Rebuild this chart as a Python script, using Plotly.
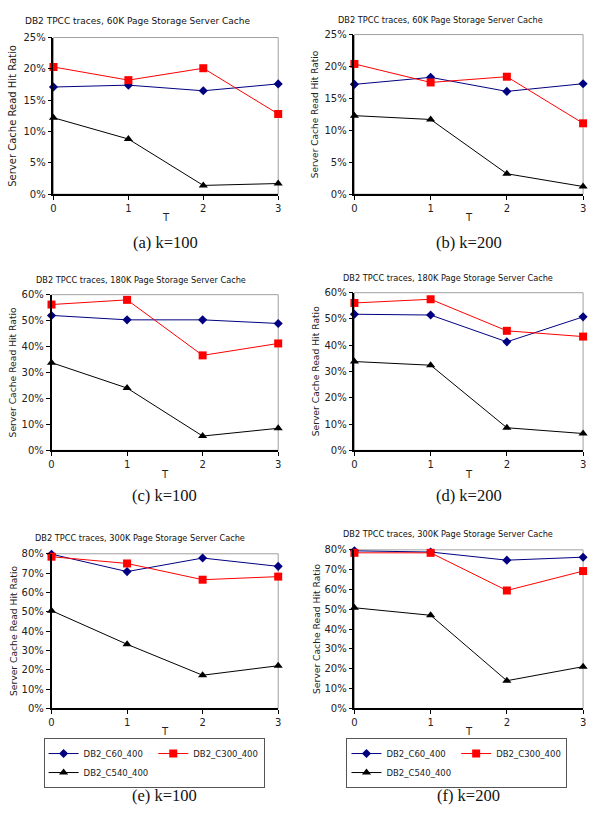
import plotly.graph_objects as go

W, H = 594, 813

T = [0, 1, 2, 3]
series_names = ["DB2_C60_400", "DB2_C300_400", "DB2_C540_400"]

titles = [
    "DB2 TPCC traces, 60K Page Storage Server Cache",
    "DB2 TPCC traces, 60K Page Storage Server Cache",
    "DB2 TPCC traces, 180K Page Storage Server Cache",
    "DB2 TPCC traces, 180K Page Storage Server Cache",
    "DB2 TPCC traces, 300K Page Storage Server Cache",
    "DB2 TPCC traces, 300K Page Storage Server Cache",
]
captions = ["(a) k=100", "(b) k=200", "(c) k=100", "(d) k=200", "(e) k=100", "(f) k=200"]
y_title = "Server Cache Read Hit Ratio"
x_title = "T"

# values in percent
a_c60 = [17.1, 17.4, 16.5, 17.6]
a_c300 = [20.3, 18.2, 20.1, 12.8]
a_c540 = [12.2, 8.8, 1.4, 1.7]
b_c60 = [17.2, 18.3, 16.1, 17.3]
b_c300 = [20.4, 17.5, 18.4, 11.1]
b_c540 = [12.3, 11.7, 3.2, 1.2]
c_c60 = [52.0, 50.3, 50.3, 48.9]
c_c300 = [56.2, 58.0, 36.6, 41.2]
c_c540 = [33.8, 24.0, 5.5, 8.5]
d_c60 = [51.8, 51.5, 41.3, 50.8]
d_c300 = [56.1, 57.5, 45.5, 43.3]
d_c540 = [33.8, 32.4, 8.6, 6.4]
e_c60 = [79.8, 70.8, 77.8, 73.5]
e_c300 = [78.5, 75.0, 66.6, 68.2]
e_c540 = [50.6, 33.2, 17.2, 22.1]
f_c60 = [79.5, 78.9, 74.8, 76.3]
f_c300 = [78.5, 78.5, 59.5, 69.3]
f_c540 = [50.8, 47.0, 14.0, 21.1]

y_max = [25, 25, 60, 60, 80, 80]
y_step = [5, 5, 10, 10, 10, 10]

panels = [
    (a_c60, a_c300, a_c540),
    (b_c60, b_c300, b_c540),
    (c_c60, c_c300, c_c540),
    (d_c60, d_c300, d_c540),
    (e_c60, e_c300, e_c540),
    (f_c60, f_c300, f_c540),
]

# layout (pixel boxes: left, right, top, bottom)
boxes = [(51, 278, 32, 191), (355, 586, 29, 191),
         (49, 278, 293, 451), (355, 586, 291, 451),
         (49, 278, 556, 713), (355, 586, 552, 713)]
title_pos = [(136, 15, 9), (442, 14, 8.2), (139, 278, 8.2), (450, 276, 8.2), (138, 540, 8.2), (450, 536, 8.2)]
ytitle_x = [10, 316, 10, 316, 10, 316]
ytitle_size = [10, 9, 9.2, 9.2, 9.2, 9.2]
xlabel_y = [215, 215, 476, 476, 736, 736]
caption_y = [240, 240, 497, 497, 801, 801]

styles = [
    dict(color="#000080", symbol="diamond", size=7),
    dict(color="#FF0000", symbol="square", size=8),
    dict(color="#000000", symbol="triangle-up", size=8),
]

FONT = "DejaVu Sans"

def px(x):
    return x / W

def py(y):
    return 1 - y / H

fig = go.Figure()
annotations = []
shapes = []
layout = {}

for i, (series, box) in enumerate(zip(panels, boxes)):
    n = i + 1
    xa = "x" if n == 1 else f"x{n}"
    ya = "y" if n == 1 else f"y{n}"
    l, r, t, b = box
    legend_ref = None
    if n == 5:
        legend_ref = "legend"
    elif n == 6:
        legend_ref = "legend2"
    for k, (vals, name, st) in enumerate(zip(series, series_names, styles)):
        tr = dict(
            x=T, y=vals, name=name, mode="lines+markers",
            xaxis=xa, yaxis=ya, cliponaxis=False,
            line=dict(color=st["color"], width=1),
            marker=dict(color=st["color"], symbol=st["symbol"], size=st["size"],
                        line=dict(width=0)),
            showlegend=legend_ref is not None,
        )
        if legend_ref:
            tr["legend"] = legend_ref
            tr["legendgroup"] = f"{legend_ref}_{'g1' if k != 1 else 'g2'}"
        fig.add_trace(go.Scatter(**tr))

    layout[f"xaxis{'' if n == 1 else n}"] = dict(
        domain=[px(l), px(r)], anchor=ya, range=[0, 3],
        tickvals=T, ticks="outside", ticklen=4, tickcolor="#000",
        showline=True, linecolor="#000", linewidth=1.5,
        showgrid=False, zeroline=False,
        tickfont=dict(family=FONT, size=10, color="#222"),
    )
    layout[f"yaxis{'' if n == 1 else n}"] = dict(
        domain=[py(b), py(t)], anchor=xa, range=[0, y_max[i]],
        dtick=y_step[i], tick0=0, ticksuffix="%",
        ticks="outside", ticklen=4, tickcolor="#000",
        showline=True, linecolor="#000", linewidth=1.5,
        showgrid=False, zeroline=False,
        tickfont=dict(family=FONT, size=10, color="#222"),
    )
    shapes.append(dict(type="rect", xref=f"{xa} domain", yref=f"{ya} domain",
                       x0=0, x1=1, y0=0, y1=1, layer="below",
                       line=dict(color="#a0a0a0", width=1)))
    tx, ty, ts = title_pos[i]
    annotations.append(dict(text=titles[i], x=px(tx), y=py(ty), xref="paper", yref="paper",
                            showarrow=False, xanchor="center", yanchor="middle",
                            font=dict(family=FONT, size=ts, color="#111")))
    annotations.append(dict(text=y_title, x=px(ytitle_x[i]), y=py((t + b) / 2),
                            xref="paper", yref="paper", textangle=-90,
                            showarrow=False, xanchor="center", yanchor="middle",
                            font=dict(family=FONT, size=ytitle_size[i], color="#222")))
    annotations.append(dict(text=x_title, x=px((l + r) / 2), y=py(xlabel_y[i]),
                            xref="paper", yref="paper", showarrow=False,
                            xanchor="center", yanchor="middle",
                            font=dict(family=FONT, size=10, color="#222")))
    annotations.append(dict(text=captions[i], x=px((l + r) / 2), y=py(caption_y[i]),
                            xref="paper", yref="paper", showarrow=False,
                            xanchor="center", yanchor="middle",
                            font=dict(family="Liberation Serif", size=16.5, color="#111")))

legend_common = dict(orientation="h", traceorder="grouped", xanchor="left", yanchor="top",
                     xref="paper", yref="paper", bordercolor="#555", borderwidth=1,
                     bgcolor="white", tracegroupgap=0, itemwidth=30,
                     font=dict(family=FONT, size=8.5, color="#222"))

fig.update_layout(
    width=W, height=H,
    margin=dict(l=0, r=0, t=0, b=0),
    paper_bgcolor="white", plot_bgcolor="white",
    annotations=annotations, shapes=shapes,
    legend=dict(x=px(41), y=py(743), **legend_common),
    legend2=dict(x=px(347), y=py(743), **legend_common),
    **layout,
)

fig.write_html("out.html")
